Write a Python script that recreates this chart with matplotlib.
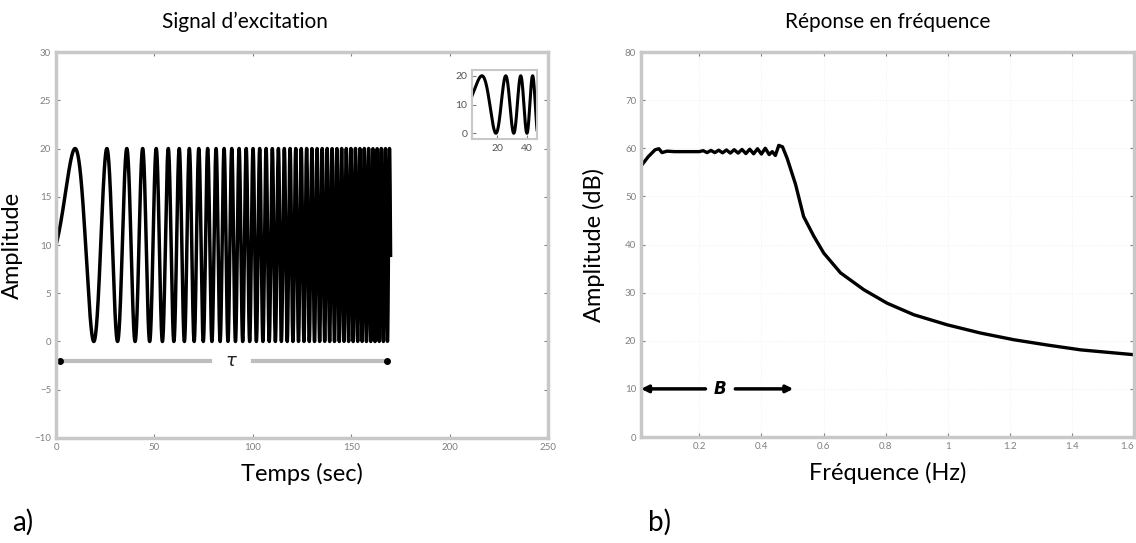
import numpy as np
from matplotlib import pyplot as plt

plt.rcParams['font.family'] = ['Lato', 'DejaVu Sans']

# excitation chirp (linear sweep)
f_start = 0.0122      # Hz
f_end = 0.488         # Hz
duration = 170.0      # s
offset = 10.0
amp = 10.0
dt = 0.05

# tau marker on the left panel
tau_y = -2.0
tau_left = (2.0, 78.0)
tau_right = (100.0, 168.0)
tau_text_x = 89.0

# frequency response
freq = [0.0125, 0.035, 0.058, 0.07, 0.08, 0.096, 0.12, 0.15, 0.18, 0.20,
        0.2125, 0.225, 0.2375, 0.25, 0.2625, 0.275, 0.2875, 0.30, 0.3125,
        0.325, 0.3375, 0.35, 0.3625, 0.375, 0.3875, 0.40, 0.4125, 0.425,
        0.435, 0.445, 0.456, 0.468, 0.483, 0.51, 0.536, 0.569, 0.601,
        0.655, 0.73, 0.805, 0.891, 0.999, 1.106, 1.214, 1.322, 1.429, 1.6]
ampl_db = [56.3, 58.2, 59.7, 59.9, 59.1, 59.4, 59.3, 59.3, 59.3, 59.3,
           59.5, 59.1, 59.55, 59.1, 59.6, 59.05, 59.65, 59.0, 59.7,
           59.0, 59.75, 58.9, 59.8, 58.85, 59.9, 58.8, 60.0, 58.7,
           59.3, 58.5, 60.6, 60.3, 57.9, 52.5, 45.8, 41.7, 38.2,
           34.1, 30.6, 27.8, 25.4, 23.3, 21.6, 20.2, 19.1, 18.1, 17.1]

# bandwidth marker B on the right panel
b_y = 10.0
b_left = (0.0125, 0.22)
b_right = (0.316, 0.503)
b_text_x = 0.268

t = np.arange(0, duration + dt, dt)
k = (f_end - f_start) / duration
sig = offset + amp * np.sin(2 * np.pi * (f_start * t + 0.5 * k * t ** 2))

frame = '#c8c8c8'
tickc = '#808080'


def style_axes(ax):
    for s in ax.spines.values():
        s.set_color(frame)
        s.set_linewidth(2.5)
    ax.tick_params(direction='in', length=3, width=0.8, color=tickc,
                   labelcolor=tickc, labelsize=7, top=True, right=True)


fig = plt.figure(figsize=(11.36, 5.43), dpi=100)

# a) excitation signal
ax1 = fig.add_axes([0.0493, 0.1934, 0.4331, 0.7108])
ax1.plot(t, sig, color='black', lw=2.5)
ax1.set_xlim(0, 250)
ax1.set_ylim(-10, 30)
ax1.set_xticks([0, 50, 100, 150, 200, 250])
ax1.set_yticks(np.arange(-10, 31, 5))
style_axes(ax1)
ax1.plot(tau_left, [tau_y, tau_y], color='#bdbdbd', lw=3)
ax1.plot(tau_right, [tau_y, tau_y], color='#bdbdbd', lw=3)
ax1.plot([tau_left[0], tau_right[1]], [tau_y, tau_y], 'o', color='black', ms=4)
ax1.text(tau_text_x, tau_y, r'$\tau$', fontsize=13, fontweight='bold',
         ha='center', va='center', color='#222222')
ax1.set_xlabel('Temps (sec)', fontsize=17, labelpad=8)
ax1.set_ylabel('Amplitude', fontsize=17)
ax1.yaxis.set_label_coords(-0.068, 0.5)
ax1.set_title('Signal d\u2019excitation', fontsize=15, pad=17, x=0.384)

# zoom on the start of the sweep
ins = fig.add_axes([0.4155, 0.744, 0.0572, 0.127])
ins.plot(t, sig, color='black', lw=2.2)
ins.set_xlim(3, 47)
ins.set_ylim(-2, 22)
ins.set_xticks([20, 40])
ins.set_yticks([0, 10, 20])
style_axes(ins)
ins.tick_params(labelsize=7.5, labelcolor='#555555', top=False, right=False)
for s in ins.spines.values():
    s.set_linewidth(1.5)

# b) frequency response
ax2 = fig.add_axes([0.5643, 0.1952, 0.434, 0.709])
ax2.plot(freq, ampl_db, color='black', lw=2.4)
ax2.set_xlim(0.0125, 1.6)
ax2.set_ylim(0, 80)
ax2.set_xticks([0.2, 0.4, 0.6, 0.8, 1, 1.2, 1.4, 1.6])
ax2.set_xticklabels(['0.2', '0.4', '0.6', '0.8', '1', '1.2', '1.4', '1.6'])
ax2.get_xticklabels()[-1].set_horizontalalignment('right')
ax2.set_yticks(np.arange(0, 81, 10))
ax2.grid(True, color='#eeeeee', lw=0.6, ls=':')
style_axes(ax2)
ax2.annotate('', xy=(b_left[0], b_y), xytext=(b_left[1], b_y),
             arrowprops=dict(arrowstyle='-|>', color='black', lw=2.5,
                             mutation_scale=10, shrinkA=0, shrinkB=0))
ax2.annotate('', xy=(b_right[1], b_y), xytext=(b_right[0], b_y),
             arrowprops=dict(arrowstyle='-|>', color='black', lw=2.5,
                             mutation_scale=10, shrinkA=0, shrinkB=0))
ax2.text(b_text_x, b_y, 'B', fontsize=12, fontweight='bold', style='italic',
         ha='center', va='center', family='DejaVu Sans')
ax2.set_xlabel('Fréquence (Hz)', fontsize=17, labelpad=8)
ax2.set_ylabel('Amplitude (dB)', fontsize=17)
ax2.yaxis.set_label_coords(-0.073, 0.5)
ax2.set_title('Réponse en fréquence', fontsize=15, pad=17)

fig.text(0.011, 0.022, 'a)', fontsize=20)
fig.text(0.57, 0.022, 'b)', fontsize=20)

plt.savefig('out.png', dpi=100)
plt.close()
